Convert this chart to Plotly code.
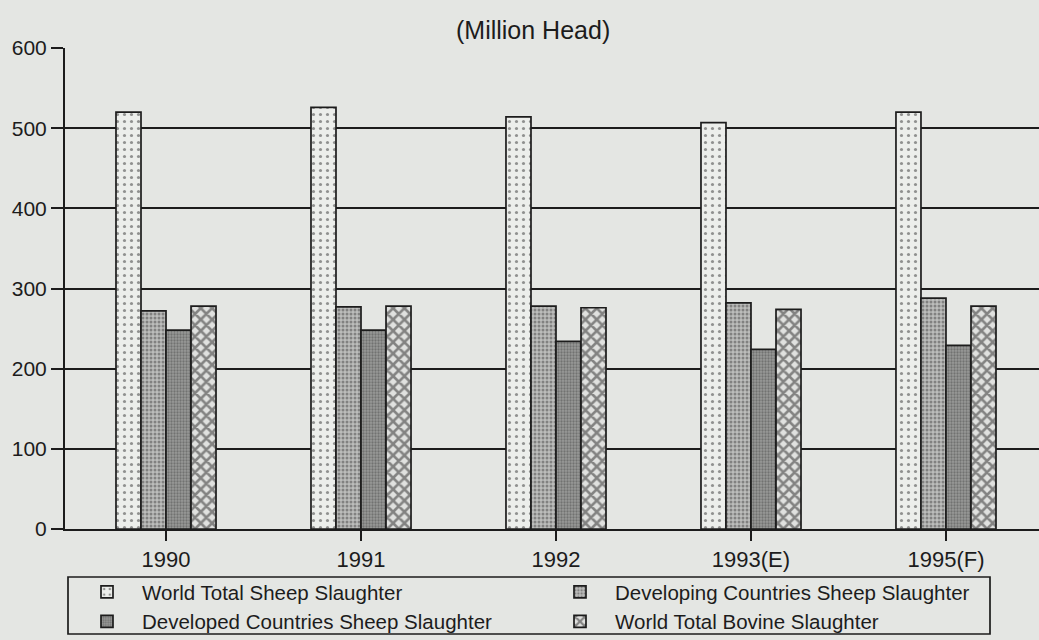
import plotly.graph_objects as go

# Slaughter volumes, million head
years = ["1990", "1991", "1992", "1993(E)", "1995(F)"]
world_sheep = [520, 526, 514, 507, 520]
developing_sheep = [272, 277, 278, 282, 288]
developed_sheep = [248, 248, 234, 224, 229]
world_bovine = [278, 278, 276, 274, 278]

series_names = [
    "World Total Sheep Slaughter",
    "Developing Countries Sheep Slaughter",
    "Developed Countries Sheep Slaughter",
    "World Total Bovine Slaughter",
]

ink = "#1c1c1c"
paper = "#e4e6e3"
font_family = "Liberation Sans, Arial, sans-serif"

# Monochrome fill textures for each series
patterns = [
    dict(shape=".", bgcolor="#eceeeb", fgcolor="#333333", size=7, solidity=0.16),
    dict(shape=".", bgcolor="#bcbdbb", fgcolor="#454545", size=4, solidity=0.45),
    dict(shape=".", bgcolor="#999a98", fgcolor="#4a4a4a", size=3, solidity=0.45),
    dict(shape="x", bgcolor="#e0e1df", fgcolor="#262626", size=8, solidity=0.55),
]
# Two legend columns: left column holds series 0 and 2, right column 1 and 3
legend_ids = ["legend", "legend2", "legend", "legend2"]

fig = go.Figure()
for name, values, pat, lg in zip(
    series_names,
    [world_sheep, developing_sheep, developed_sheep, world_bovine],
    patterns,
    legend_ids,
):
    fig.add_trace(
        go.Bar(
            x=years,
            y=values,
            name=name,
            legend=lg,
            legendgroup=name,
            marker=dict(
                color=pat["bgcolor"],
                pattern=pat,
                line=dict(color=ink, width=1.7),
            ),
        )
    )

PLOT_L, PLOT_T, PLOT_W, PLOT_H = 65, 48, 974, 481


def px_x(v):
    return (v - PLOT_L) / PLOT_W


def px_y(v):
    return 1 - (v - PLOT_T) / PLOT_H


legend_common = dict(
    orientation="v",
    xanchor="left",
    yanchor="top",
    y=px_y(572),
    bgcolor="rgba(0,0,0,0)",
    borderwidth=0,
    itemwidth=60,
    font=dict(size=20.5, color=ink, family=font_family),
    tracegroupgap=0,
    traceorder="normal",
)

fig.update_layout(
    width=1039,
    height=640,
    margin=dict(l=PLOT_L, r=1039 - PLOT_L - PLOT_W, t=PLOT_T,
                b=640 - PLOT_T - PLOT_H, autoexpand=False),
    paper_bgcolor=paper,
    plot_bgcolor=paper,
    barmode="group",
    bargap=0.487,
    bargroupgap=0,
    font=dict(family=font_family, color=ink, size=17),
    showlegend=True,
    legend=dict(legend_common, x=px_x(72)),
    legend2=dict(legend_common, x=px_x(545)),
    annotations=[
        dict(
            text="(Million Head)",
            xref="paper",
            yref="paper",
            x=px_x(533),
            y=px_y(30),
            xanchor="center",
            yanchor="middle",
            showarrow=False,
            font=dict(size=25, color=ink),
        )
    ],
)

# Frame around the legend
fig.add_shape(
    type="rect",
    xref="paper",
    yref="paper",
    x0=px_x(68),
    x1=px_x(990),
    y0=px_y(634),
    y1=px_y(577),
    line=dict(color=ink, width=1.7),
    fillcolor="rgba(0,0,0,0)",
)

fig.update_xaxes(
    type="category",
    range=[-0.518, 4.477],
    showline=True,
    linecolor=ink,
    linewidth=2,
    ticks="outside",
    ticklen=10,
    tickwidth=2,
    tickcolor=ink,
    showgrid=False,
    tickfont=dict(size=22, color=ink),
)

fig.update_yaxes(
    range=[0, 600],
    tickvals=[0, 100, 200, 300, 400, 500, 600],
    showline=True,
    linecolor=ink,
    linewidth=2,
    ticks="outside",
    ticklen=12,
    tickwidth=2,
    tickcolor=ink,
    showgrid=True,
    gridcolor=ink,
    gridwidth=2,
    zeroline=False,
    tickfont=dict(size=21, color=ink),
)

fig.write_html("out.html")
